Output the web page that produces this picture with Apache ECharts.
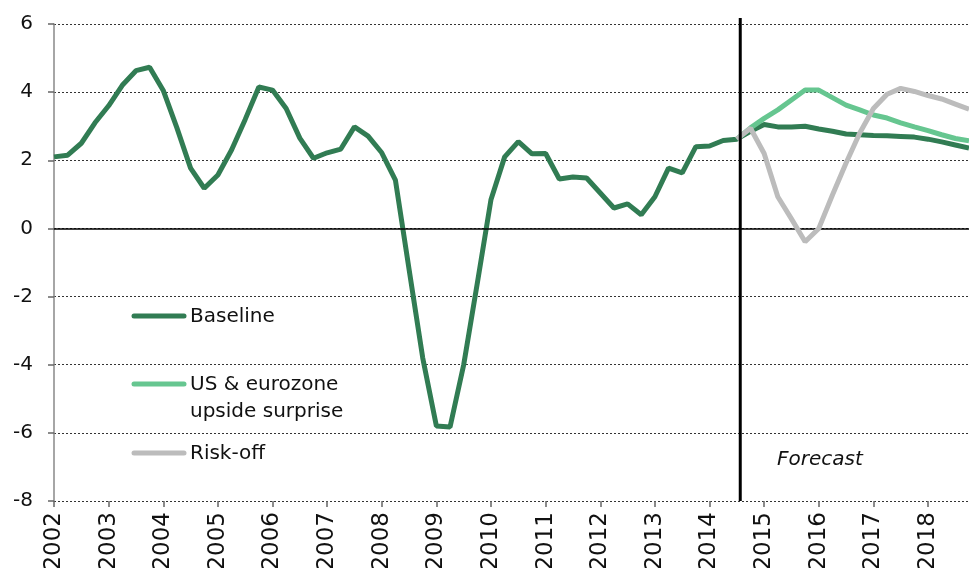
<!DOCTYPE html>
<html>
<head>
<meta charset="utf-8">
<script src="https://cdn.jsdelivr.net/npm/echarts@6/dist/echarts.min.js"></script>
<style>
  html, body { margin: 0; padding: 0; background: #fff; }
  #main { width: 969px; height: 568px; }
</style>
</head>
<body>
<div id="main"></div>
<script>
// quarterly categories 2002Q1 .. 2018Q4
const years = [2002, 2003, 2004, 2005, 2006, 2007, 2008, 2009, 2010, 2011, 2012, 2013, 2014, 2015, 2016, 2017, 2018];
const quarters = years.flatMap(y => ['Q1', 'Q2', 'Q3', 'Q4'].map(q => y + q));

// baseline: history 2002Q1..2014Q3, then forecast 2014Q4..2018Q4
const baseline = [
  2.10, 2.15, 2.50, 3.10,
  3.60, 4.20, 4.63, 4.73,
  4.05, 2.95, 1.77, 1.18,
  1.57, 2.30, 3.20, 4.15,
  4.06, 3.52, 2.65, 2.06,
  2.22, 2.33, 2.98, 2.71,
  2.22, 1.42, -1.20, -3.80,
  -5.80, -5.83, -4.00, -1.60,
  0.85, 2.10, 2.55, 2.19,
  2.20, 1.45, 1.51, 1.48,
  1.04, 0.60, 0.72, 0.40,
  0.93, 1.77, 1.63, 2.40,
  2.42, 2.58, 2.62, 2.85,
  3.05, 2.98, 2.98, 3.00,
  2.92, 2.85, 2.77, 2.75,
  2.73, 2.72, 2.70, 2.68,
  2.62, 2.54, 2.45, 2.36
];

// scenarios start at 2014Q3
const forecastStart = '2014Q3';
const upside = [2.62, 2.95, 3.23, 3.48, 3.77, 4.06, 4.06, 3.84, 3.62, 3.48, 3.33, 3.24, 3.10, 2.98, 2.87, 2.75, 2.64, 2.57];
const riskOff = [2.62, 2.94, 2.20, 0.93, 0.28, -0.39, 0.00, 0.98, 1.92, 2.80, 3.52, 3.94, 4.11, 4.02, 3.90, 3.80, 3.65, 3.50];

const yTicks = [-8, -6, -4, -2, 0, 2, 4, 6];

const seriesNames = ['Baseline', 'US & eurozone\nupside surprise', 'Risk-off'];
const colors = ['#317c53', '#66c690', '#bcbcbc'];

const fcQuarters = quarters.slice(quarters.indexOf(forecastStart));
const pairs = arr => arr.map((v, i) => [fcQuarters[i], v]);

const FONT = '"DejaVu Sans", "Noto Sans", sans-serif';

const chart = echarts.init(document.getElementById('main'));

// legend drawn by hand, line then label
const legendY = [316, 384, 453];
const legendGraphics = [];
seriesNames.forEach((name, i) => {
  legendGraphics.push({
    type: 'line',
    shape: { x1: 134, y1: legendY[i], x2: 184, y2: legendY[i] },
    style: { stroke: colors[i], lineWidth: 5, lineCap: 'round' }
  });
  legendGraphics.push({
    type: 'text',
    left: 190,
    top: legendY[i] - 13,
    style: {
      text: name,
      font: '20px ' + FONT,
      fill: '#111',
      lineHeight: 27
    }
  });
});
const forecastLabel = {
  type: 'text',
  left: 777,
  top: 450,
  style: { text: 'Forecast', font: 'italic 20px ' + FONT, fill: '#111' }
};

const option = {
  animation: false,
  backgroundColor: '#fff',
  grid: { left: 54, right: 0, top: 24, bottom: 67, containLabel: false, outerBoundsMode: 'none' },
  xAxis: {
    type: 'category',
    data: quarters,
    boundaryGap: false,
    axisLine: { show: false, onZero: false },
    axisTick: {
      show: true,
      length: 6,
      interval: (idx, val) => val.endsWith('Q1'),
      lineStyle: { color: '#666', width: 1.5 }
    },
    axisLabel: {
      interval: (idx, val) => val.endsWith('Q1'),
      formatter: val => val.slice(0, 4),
      rotate: 90,
      margin: 11,
      fontSize: 23,
      fontFamily: FONT,
      color: '#111'
    },
    splitLine: { show: false }
  },
  yAxis: {
    type: 'value',
    min: yTicks[0],
    max: yTicks[yTicks.length - 1],
    interval: 2,
    axisLine: { show: true, lineStyle: { color: '#888', width: 1.5 } },
    axisTick: { show: true, length: 6, lineStyle: { color: '#666', width: 1.5 } },
    axisLabel: {
      margin: 21,
      fontSize: 20,
      fontFamily: FONT,
      color: '#111'
    },
    splitLine: { show: true, lineStyle: { color: '#333', width: 1, type: [2, 2] } }
  },
  series: [
    {
      name: 'Baseline',
      type: 'line',
      data: baseline,
      showSymbol: false,
      lineStyle: { color: colors[0], width: 5 },
      z: 3,
      markLine: {
        silent: true,
        symbol: 'none',
        label: { show: false },
        lineStyle: { color: '#000', width: 1.5, type: 'solid' },
        data: [{ yAxis: 0 }]
      }
    },
    {
      name: seriesNames[1],
      type: 'line',
      data: pairs(upside),
      showSymbol: false,
      lineStyle: { color: colors[1], width: 5 },
      z: 4
    },
    {
      name: 'Risk-off',
      type: 'line',
      data: pairs(riskOff),
      showSymbol: false,
      lineStyle: { color: colors[2], width: 5 },
      z: 5
    }
  ],
  graphic: legendGraphics.concat([forecastLabel])
};

chart.setOption(option);

// forecast divider: placed from the axis scales, reaching a little above the plot
const qStep = chart.convertToPixel({ xAxisIndex: 0 }, quarters[1]) - chart.convertToPixel({ xAxisIndex: 0 }, quarters[0]);
const divX = chart.convertToPixel({ xAxisIndex: 0 }, forecastStart) + qStep * 0.25;
const divBottom = chart.convertToPixel({ yAxisIndex: 0 }, yTicks[0]);
const divTop = chart.convertToPixel({ yAxisIndex: 0 }, yTicks[yTicks.length - 1]) - 6;
chart.setOption({
  graphic: legendGraphics.concat([
    forecastLabel,
    {
      type: 'line',
      z: 10,
      shape: { x1: divX, y1: divTop, x2: divX, y2: divBottom },
      style: { stroke: '#000', lineWidth: 3 }
    }
  ])
}, { replaceMerge: ['graphic'] });
</script>
</body>
</html>
